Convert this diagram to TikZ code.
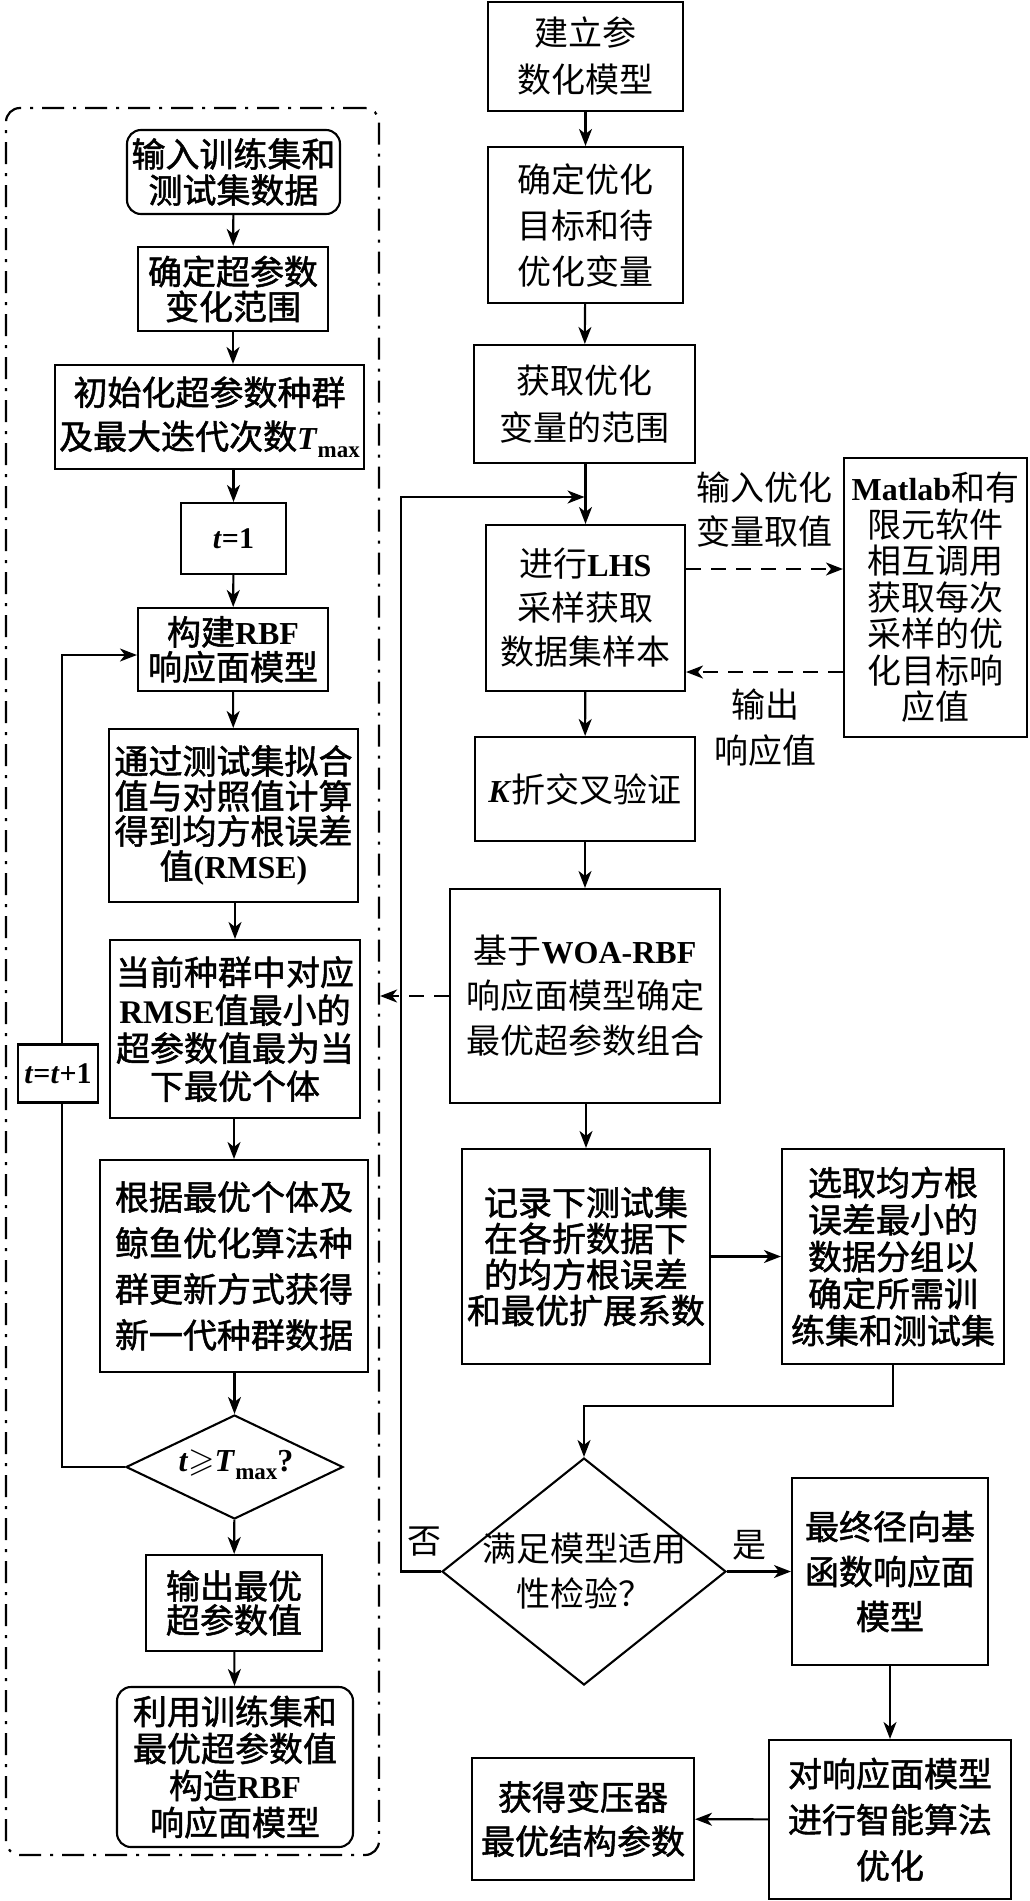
\documentclass[tikz,border=0pt]{standalone}
\usepackage{fontspec}
\usepackage{amssymb}
\setmainfont{Liberation Serif}
\newfontfamily\cjk{Noto Sans CJK SC}
\newfontfamily\cjkb{Noto Sans CJK SC}[FakeBold=1.5]
\usetikzlibrary{arrows.meta,shapes.geometric,calc}
\newcommand\LB[1]{{\rmfamily\bfseries\fontsize{32}{0}\selectfont #1}}
\newcommand\LBs[1]{{\rmfamily\bfseries\fontsize{30}{0}\selectfont #1}}
\newcommand\sub[1]{\raisebox{-8pt}{\rmfamily\bfseries\fontsize{23}{0}\selectfont #1}}
\tikzset{
  bx/.style={draw, line width=2.1pt, inner sep=0pt, align=center},
  wh/.style 2 args={minimum width=#1pt, minimum height=#2pt},
  fb/.style={font=\cjkb\fontsize{34}{#1}\selectfont, align=center, inner sep=0pt},
  fr/.style={font=\cjk\fontsize{34}{#1}\selectfont, align=center, inner sep=0pt},
  arr/.style={line width=2.1pt, -{Stealth[length=17pt,width=13pt,inset=5pt]}},
  ln/.style={line width=2.1pt},
  dsh/.style={dash pattern=on 15pt off 10pt},
  frm/.style={draw, line width=2.2pt, rounded corners=14pt, dash pattern=on 22pt off 9pt on 3pt off 9pt, inner sep=0pt},
  rnd/.style={rounded corners=14pt},
  dia/.style={draw, diamond, line width=2.1pt, inner sep=0pt},
}
\begin{document}
\begin{tikzpicture}[x=1pt,y=-1pt]
\fill[white] (0,0) rectangle (1030,1901);
\useasboundingbox (0,0) rectangle (1030,1901);

% ---------- left frame ----------
\node[frm, wh={373}{1747}] (frame) at (192.5,981.5) {};

% ---------- left column ----------
\node[bx, rnd, fb=36, wh={213}{84}] (L1) at (233.5,172) {输入训练集和\\测试集数据};
\node[bx, fb=35, wh={190}{84}] (L2) at (233,289) {确定超参数\\变化范围};
\node[bx, fb=44, wh={309}{104}] (L3) at (209.5,417) {初始化超参数种群\\及最大迭代次数\LB{\textit{T}}\sub{max}};
\node[bx, fb=36, wh={105}{71}] (L4) at (233.5,538.5) {\LBs{\textit{t}=1}};
\node[bx, fb=35, wh={190}{83}] (L5) at (233,649.5) {构建\LB{RBF}\\响应面模型};
\node[bx, fb=35, wh={249}{173}] (L6) at (233.5,815.5) {通过测试集拟合\\值与对照值计算\\得到均方根误差\\值\LB{(RMSE)}};
\node[bx, fb=38, wh={250}{178}] (L7) at (235,1029) {当前种群中对应\\{\rmfamily\bfseries\fontsize{33}{0}\selectfont RMSE}值最小的\\超参数值最为当\\下最优个体};
\node[bx, fb=46, wh={268}{212}] (L8) at (234,1266) {根据最优个体及\\鲸鱼优化算法种\\群更新方式获得\\新一代种群数据};
\node[dia, minimum width=217pt, minimum height=104pt] (L9) at (234.5,1467) {};
\node[fb=36] (L9t) at (236,1465) {\LB{\textit{t}}{\fontsize{34}{0}\selectfont$\geqslant$}\LB{\textit{T}}\sub{max}\LB{?}};
\node[bx, fb=34, wh={176}{96}] (L10) at (234,1603) {输出最优\\超参数值};
\node[bx, rnd, fb=37, wh={236}{160}] (L11) at (235,1767) {利用训练集和\\最优超参数值\\构造\LB{RBF}\\响应面模型};
\node[bx, fill=white, fb=36, wh={80}{58}] (Ltt) at (58,1073.5) {\LBs{\textit{t}=\textit{t}+1}};

\draw[arr] (L1) -- (L2);
\draw[arr] (L2) -- (L2 |- L3.north);
\draw[arr] (L3.south -| L4) -- (L4);
\draw[arr] (L4) -- (L5);
\draw[arr] (L5) -- (L6);
\draw[arr] (L6.south -| L7) -- (L7);
\draw[arr] (L7.south -| L8) -- (L8);
\draw[arr] (L8.south -| L9) -- (L9);
\draw[arr] (L9) -- (L10);
\draw[arr] (L10) -- (L11);
\coordinate (lp) at (62,655);
\draw[ln] (L9.west) -| (Ltt.south -| lp);
\draw[arr] (Ltt.north -| lp) -- (lp) -- (lp -| L5.west);

% ---------- right column ----------
\node[bx, fr=47, wh={195}{109}] (R1) at (585.5,56.5) {建立参\\数化模型};
\node[bx, fr=46, wh={195}{156}] (R2) at (585.5,225) {确定优化\\目标和待\\优化变量};
\node[bx, fr=47, wh={221}{118}] (R3) at (584.5,404) {获取优化\\变量的范围};
\node[bx, fr=44, wh={199}{166}] (R4) at (585.5,608) {进行\LB{LHS}\\采样获取\\数据集样本};
\node[bx, fr=36.5, wh={183}{279}] (M) at (935.5,597.5) {\LB{Matlab}和有\\限元软件\\相互调用\\获取每次\\采样的优\\化目标响\\应值};
\node[bx, fr=40, wh={220}{104}] (R5) at (585,789) {\LB{\textit{K}}折交叉验证};
\node[bx, fr=45, wh={270}{214}] (R6) at (585,996) {基于\LB{WOA-RBF}\\响应面模型确定\\最优超参数组合};
\node[bx, fb=36, wh={248}{215}] (R7) at (586,1256.5) {记录下测试集\\在各折数据下\\的均方根误差\\和最优扩展系数};
\node[bx, fb=37, wh={222}{215}] (R8) at (893,1256.5) {选取均方根\\误差最小的\\数据分组以\\确定所需训\\练集和测试集};
\node[dia, minimum width=284pt, minimum height=227pt] (D) at (584,1571.5) {};
\node[fr=45] (Dt) at (584,1571.5) {满足模型适用\\性检验？};
\node[bx, fb=45, wh={196}{187}] (R9) at (890,1571.5) {最终径向基\\函数响应面\\模型};
\node[bx, fb=46, wh={242}{159}] (R10) at (890,1819.5) {对响应面模型\\进行智能算法\\优化};
\node[bx, fb=44, wh={222}{122}] (R11) at (583,1819) {获得变压器\\最优结构参数};

% labels
\node[fr=44] (lin) at (764,510) {输入优化\\变量取值};
\node[fr=46] (lout) at (765,728) {输出\\响应值};
\node[fr=34] (lno) at (424,1542) {否};
\node[fr=34] (lyes) at (749,1545) {是};

% coordinates
\coordinate (fb) at (401,497);
\coordinate (d1) at (0,569);
\coordinate (d2) at (0,672);
\coordinate (jn) at (0,1406);

\draw[arr] (R1) -- (R2);
\draw[arr] (R2) -- (R3);
\draw[arr] (R3.south -| R4) -- (R4);
\draw[arr] (D.west) -| (fb) -- (fb -| R3.south);
\draw[arr, dsh] (R4.east |- d1) -- (M.west |- d1);
\draw[arr, dsh] (M.west |- d2) -- (R4.east |- d2);
\draw[arr] (R4) -- (R5);
\draw[arr] (R5) -- (R6);
\draw[arr] (R6.south -| R7) -- (R7);
\draw[arr, dsh] (R6.west) -- (frame.east |- R6.west);
\draw[arr] (R7) -- (R8);
\draw[arr] (R8.south) -- (R8.south |- jn) -| (D.north);
\draw[arr] (D.east) -- (R9.west);
\draw[arr] (R9) -- (R10);
\draw[arr] (R10) -- (R11);
\end{tikzpicture}
\end{document}
